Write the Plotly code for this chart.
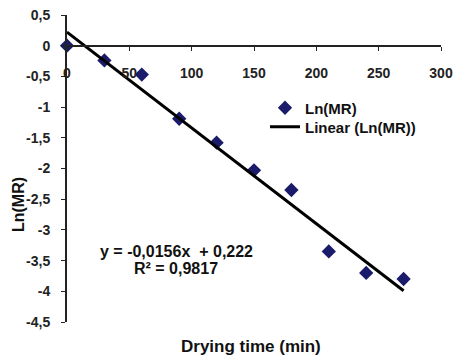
import plotly.graph_objects as go

time_min = [0, 30, 60, 90, 120, 150, 180, 210, 240, 270]
ln_mr = [0.0, -0.24, -0.47, -1.19, -1.58, -2.03, -2.35, -3.35, -3.70, -3.80]
slope = -0.0156
intercept = 0.222
r2 = 0.9817
y_ticks = [0.5, 0, -0.5, -1, -1.5, -2, -2.5, -3, -3.5, -4, -4.5]
y_tick_labels = ["0,5", "0", "-0,5", "-1", "-1,5", "-2", "-2,5", "-3", "-3,5", "-4", "-4,5"]
x_ticks = [0, 50, 100, 150, 200, 250, 300]
x_tick_labels = ["0", "50", "100", "150", "200", "250", "300"]

fit_x = [time_min[0], time_min[-1]]
fit_y = [slope * x + intercept for x in fit_x]

FONT = "Liberation Sans, Arial, sans-serif"
TXT = "#111111"

fig = go.Figure()
fig.add_trace(go.Scatter(
    x=time_min, y=ln_mr, mode="markers", name="Ln(MR)",
    marker=dict(symbol="diamond", size=11, color="#1b1b6b"),
    cliponaxis=False, legend="legend",
))
fig.add_trace(go.Scatter(
    x=fit_x, y=fit_y, mode="lines", name="Linear (Ln(MR))",
    line=dict(color="black", width=3),
    cliponaxis=False, legend="legend2",
))

ymin, ymax = -4.5, 0.5
L, R, T, B = 67, 12, 15, 36
PW, PH = 453 - L - R, 358 - T - B


def px(x):
    return (x - L) / PW


def py(y):
    return 1 - (y - T) / PH


legend_font = dict(family=FONT, size=15, color=TXT, weight="bold")

fig.update_layout(
    width=453, height=358,
    margin=dict(l=L, r=R, t=T, b=B, autoexpand=False),
    paper_bgcolor="white", plot_bgcolor="white",
    showlegend=True,
    legend=dict(x=px(265), y=py(108), xanchor="left", yanchor="middle",
                bgcolor="rgba(0,0,0,0)", itemwidth=30, font=legend_font),
    legend2=dict(x=px(265), y=py(127), xanchor="left", yanchor="middle",
                 bgcolor="rgba(0,0,0,0)", itemwidth=30, font=legend_font),
    xaxis=dict(range=[0, 300], tickvals=x_ticks, ticktext=x_tick_labels,
               showgrid=False, zeroline=False, showline=True, linecolor="#222",
               linewidth=2, ticks="outside", ticklen=4, tickcolor="#222",
               anchor="free", position=(0 - ymin) / (ymax - ymin),
               automargin=False, ticklabelstandoff=10,
               tickfont=dict(family=FONT, size=14, color="#222", weight="bold")),
    yaxis=dict(range=[ymin, ymax], tickvals=y_ticks, ticktext=y_tick_labels,
               showgrid=False, zeroline=False, showline=True, linecolor="#222",
               linewidth=2, ticks="outside", ticklen=4, tickcolor="#222",
               automargin=False, ticklabelstandoff=8,
               tickfont=dict(family=FONT, size=14, color="#222", weight="bold")),
    annotations=[
        dict(text="y = -0,0156x  + 0,222", xref="paper", yref="paper",
             x=px(176), y=py(251), xanchor="center", yanchor="middle", showarrow=False,
             font=dict(family=FONT, size=16, color=TXT, weight="bold")),
        dict(text="R² = 0,9817", xref="paper", yref="paper",
             x=px(176), y=py(268), xanchor="center", yanchor="middle", showarrow=False,
             font=dict(family=FONT, size=16, color=TXT, weight="bold")),
        dict(text="Ln(MR)", xref="paper", yref="paper", textangle=-90,
             x=px(18), y=py(205), xanchor="center", yanchor="middle", showarrow=False,
             font=dict(family=FONT, size=16, color=TXT, weight="bold")),
        dict(text="Drying time (min)", xref="paper", yref="paper",
             x=px(251), y=py(346), xanchor="center", yanchor="middle", showarrow=False,
             font=dict(family=FONT, size=17, color=TXT, weight="bold")),
    ],
)

fig.write_html("out.html", config={"displayModeBar": False},
               post_script="document.body.style.margin='0';")
